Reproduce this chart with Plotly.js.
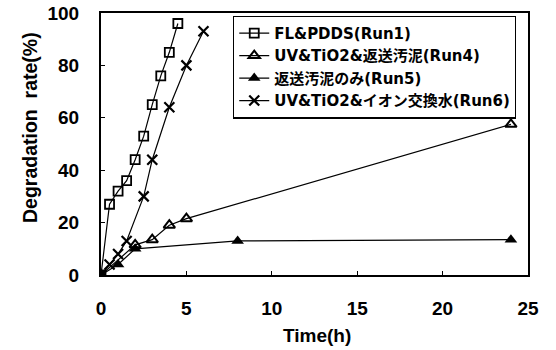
<!DOCTYPE html>
<html>
<head>
<meta charset="utf-8">
<script src="https://cdn.plot.ly/plotly-3.0.1.min.js"></script>
<style>
  html, body { margin: 0; padding: 0; background: #fff; }
  #chart { width: 556px; height: 350px; }
</style>
</head>
<body>
<div id="chart"></div>
<script>
// Degradation rate over time for four treatment runs
const seriesNames = [
  'FL&PDDS(Run1)',
  'UV&TiO2&返送汚泥(Run4)',
  '返送汚泥のみ(Run5)',
  'UV&TiO2&イオン交換水(Run6)'
];

const run1Time = [0, 0.5, 1, 1.5, 2, 2.5, 3, 3.5, 4, 4.5];
const run1Rate = [0, 27, 32, 36, 44, 53, 65, 76, 85, 96];

const run4Time = [0, 2, 3, 4, 5, 24];
const run4Rate = [0, 11.5, 13.5, 19, 21.5, 57.5];

const run5Time = [0, 1, 2, 8, 24];
const run5Rate = [0, 4, 10, 13, 13.5];

const run6Time = [0, 0.5, 1, 1.5, 2.5, 3, 4, 5, 6];
const run6Rate = [0, 4, 8, 13, 30, 44, 64, 80, 93];

const xTicks = [0, 5, 10, 15, 20, 25];
const yTicks = [0, 20, 40, 60, 80, 100];

const FONT = '"Liberation Sans", Arial, "Noto Sans CJK JP", sans-serif';
const LEGEND_FONT = '"DejaVu Sans", "Noto Sans CJK JP", sans-serif';
const lineStyle = { color: '#000', width: 1.2 };

const traces = [
  {
    x: run1Time, y: run1Rate, name: seriesNames[0], mode: 'lines+markers',
    line: lineStyle,
    marker: { symbol: 'square-open', size: 9, color: '#000', line: { width: 1.8, color: '#000' } }
  },
  {
    x: run4Time, y: run4Rate, name: seriesNames[1], mode: 'lines+markers',
    line: lineStyle,
    marker: { symbol: 'triangle-up-open', size: 10, color: '#000', line: { width: 2, color: '#000' } }
  },
  {
    x: run5Time, y: run5Rate, name: seriesNames[2], mode: 'lines+markers',
    line: lineStyle,
    marker: { symbol: 'triangle-up', size: 11, color: '#000' }
  },
  {
    x: run6Time, y: run6Rate, name: seriesNames[3], mode: 'lines+markers',
    line: lineStyle,
    marker: { symbol: 'x-thin-open', size: 10, color: '#000', line: { width: 2.2, color: '#000' } }
  }
];

const layout = {
  width: 556, height: 350,
  margin: { l: 101, r: 28, t: 13, b: 75 },
  paper_bgcolor: '#fff', plot_bgcolor: '#fff',
  font: { family: FONT, color: '#000' },
  showlegend: true,
  legend: {
    x: 0.972, xanchor: 'right', y: 0.99, yanchor: 'top',
    bgcolor: '#fff', bordercolor: '#000', borderwidth: 1.2,
    font: { family: LEGEND_FONT, size: 15, color: '#000', weight: 'bold' },
    tracegroupgap: 0
  },
  xaxis: {
    range: [0, 25], tickvals: xTicks, ticktext: xTicks.map(String),
    showgrid: false, zeroline: false,
    showline: true, linecolor: '#000', linewidth: 2, mirror: true,
    ticks: 'inside', ticklen: 4, tickcolor: '#000',
    ticklabelstandoff: 15,
    tickfont: { family: FONT, size: 19, color: '#000', weight: 'bold' }
  },
  yaxis: {
    range: [0, 100], tickvals: yTicks, ticktext: yTicks.map(String),
    showgrid: false, zeroline: false,
    showline: true, linecolor: '#000', linewidth: 2, mirror: true,
    ticks: 'inside', ticklen: 4, tickcolor: '#000',
    ticklabelstandoff: 16,
    tickfont: { family: FONT, size: 19, color: '#000', weight: 'bold' }
  },
  annotations: [
    {
      text: 'Time(h)', xref: 'paper', yref: 'paper',
      x: 0.505, y: -0.23, xanchor: 'center', yanchor: 'middle', showarrow: false,
      font: { family: FONT, size: 19, color: '#000', weight: 'bold' }
    },
    {
      text: 'Degradation  rate(%)', xref: 'paper', yref: 'paper',
      x: -0.168, y: 0.562, xanchor: 'center', yanchor: 'middle', showarrow: false,
      textangle: -90,
      font: { family: FONT, size: 19.5, color: '#000', weight: 'bold' }
    }
  ]
};

Plotly.newPlot('chart', traces, layout, { staticPlot: true, displayModeBar: false });
</script>
</body>
</html>
